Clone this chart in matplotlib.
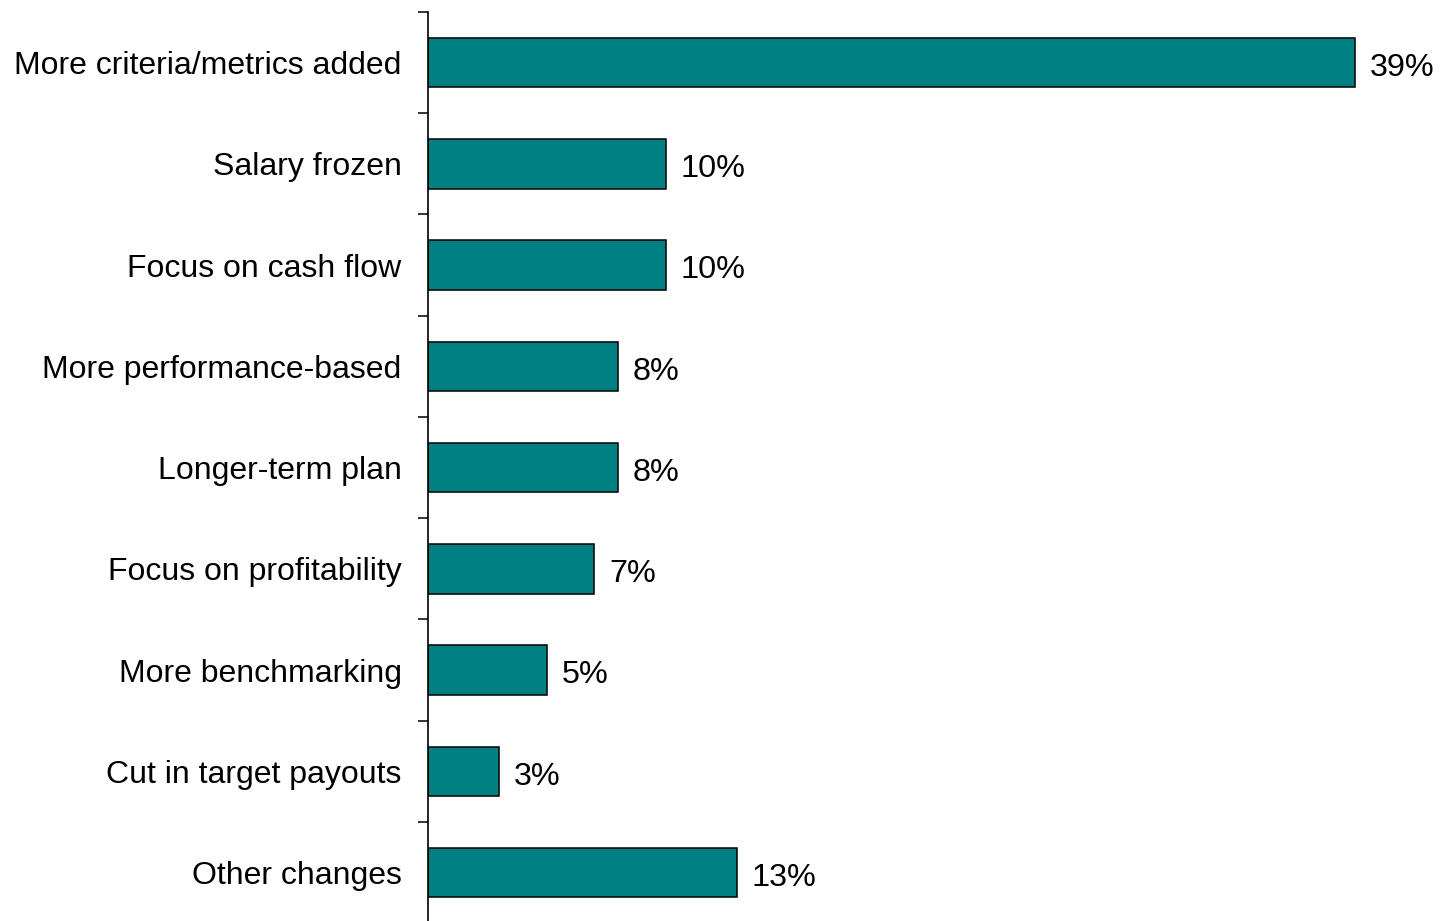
import matplotlib
matplotlib.use("Agg")
import matplotlib.pyplot as plt

categories = [
    "More criteria/metrics added",
    "Salary frozen",
    "Focus on cash flow",
    "More performance-based",
    "Longer-term plan",
    "Focus on profitability",
    "More benchmarking",
    "Cut in target payouts",
    "Other changes",
]
values = [39, 10, 10, 8, 8, 7, 5, 3, 13]

plt.rcParams["font.family"] = ["Liberation Sans", "DejaVu Sans"]

W, H = 1442, 921
fig = plt.figure(figsize=(W / 100, H / 100), dpi=100)

# axes geometry in pixels
x0, top, step = 428, 12, 101.25
n = len(categories)
bottom_px = top + step * n
ax = fig.add_axes([x0 / W, (H - bottom_px) / H, (W - x0) / W, step * n / H])

px_per_unit = (1355 - x0) / 39.0
ax.set_xlim(0, (W - x0) / px_per_unit)
ax.set_ylim(n - 0.5, -0.5)

pos = list(range(n))
ax.barh(pos, values, height=0.49, color="#008080", edgecolor="black", linewidth=1.1)

for p, v in zip(pos, values):
    ax.annotate(f"{v}%", xy=(v, p), xytext=(10.5, -3.8), textcoords="offset points",
                ha="left", va="center", fontsize=23.3, color="black")

ax.set_yticks(pos)
ax.set_yticklabels(categories, fontsize=23.0)
ax.tick_params(axis="y", which="major", length=0, pad=19)
ax.set_yticks([i - 0.5 for i in range(n + 1)], minor=True)
ax.tick_params(axis="y", which="minor", length=7.5, width=1.1, direction="out")

for s in ["top", "right", "bottom"]:
    ax.spines[s].set_visible(False)
ax.spines["left"].set_linewidth(1.2)
ax.set_xticks([])

fig.savefig("out.png", dpi=100)
